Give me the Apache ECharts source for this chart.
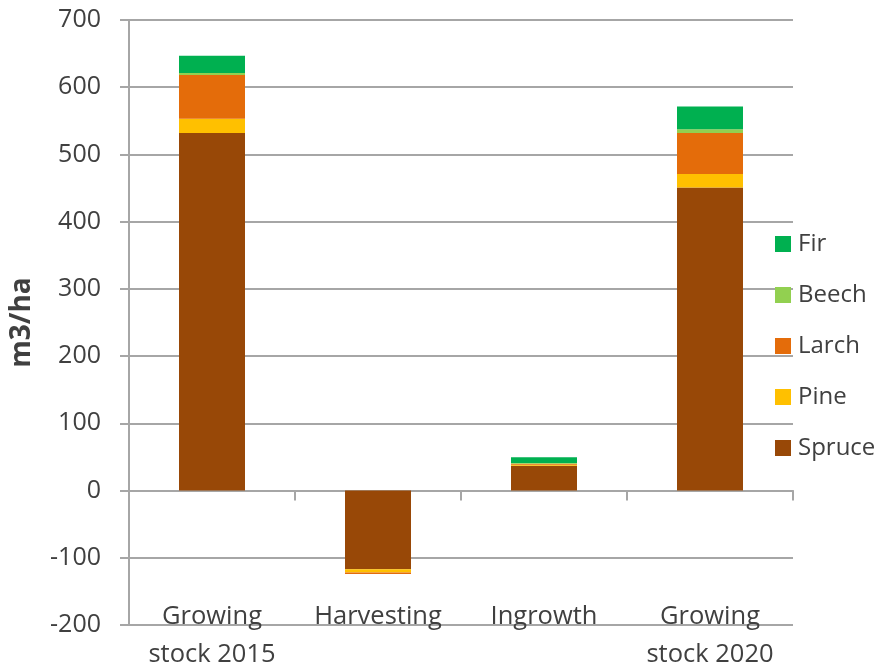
<!DOCTYPE html>
<html>
<head>
<meta charset="utf-8">
<script src="https://cdn.jsdelivr.net/npm/echarts@6/dist/echarts.min.js"></script>
<style>
  html, body { margin: 0; padding: 0; background: #fff; }
  #chart { width: 883px; height: 666px; }
</style>
</head>
<body>
<div id="chart"></div>
<script>
// Stand volume components per tree species (m3/ha)
const categories = ['Growing\nstock 2015', 'Harvesting', 'Ingrowth', 'Growing\nstock 2020'];
const spruce = [532, -117, 37, 451];
const pine   = [21, -5, 1.5, 20];
const larch  = [65, -2, 1.5, 61];
const beech  = [3, 0, 1, 5.5];
const fir    = [26, 0, 8.5, 34];

const yTicks = { min: -200, max: 700, step: 100 };

const FONT = '"Open Sans", "Noto Sans", sans-serif';
const TEXT = '#404040';
const LINE = '#a6a6a6';

const seriesDefs = [
  { name: 'Spruce', data: spruce, color: '#984807' },
  { name: 'Pine',   data: pine,   color: '#FFC000' },
  { name: 'Larch',  data: larch,  color: '#E46C0A' },
  { name: 'Beech',  data: beech,  color: '#92D050' },
  { name: 'Fir',    data: fir,    color: '#00B050' }
];

const chart = echarts.init(document.getElementById('chart'), null, { renderer: 'canvas' });

chart.setOption({
  animation: false,
  backgroundColor: '#ffffff',
  textStyle: { fontFamily: FONT },
  grid: { left: 129, right: 90, top: 20, bottom: 41, containLabel: false, outerBoundsMode: 'none' },
  legend: {
    orient: 'vertical',
    left: 775,
    top: 232,
    padding: 0,
    itemWidth: 16,
    itemHeight: 16,
    itemGap: 27,
    icon: 'rect',
    data: ['Fir', 'Beech', 'Larch', 'Pine', 'Spruce'],
    textStyle: { fontFamily: FONT, fontSize: 24, color: TEXT, lineHeight: 24, padding: [0, 0, 0, 2] }
  },
  xAxis: [
    {
      type: 'category',
      data: categories,
      axisLine: { onZero: true, lineStyle: { color: LINE, width: 2 } },
      axisTick: { show: true, length: 10, lineStyle: { color: LINE, width: 2 } },
      axisLabel: { show: false },
      splitLine: { show: false }
    },
    {
      type: 'category',
      data: categories,
      position: 'bottom',
      axisLine: { show: false },
      axisTick: { show: false },
      axisLabel: {
        show: true,
        interval: 0,
        hideOverlap: false,
        margin: -27,
        fontFamily: FONT,
        fontSize: 25.5,
        lineHeight: 38,
        color: TEXT,
        verticalAlign: 'top'
      },
      splitLine: { show: false }
    }
  ],
  yAxis: {
    type: 'value',
    min: yTicks.min,
    max: yTicks.max,
    interval: yTicks.step,
    name: 'm3/ha',
    nameLocation: 'middle',
    nameGap: 93,
    nameRotate: 90,
    nameTextStyle: { fontFamily: FONT, fontSize: 28, fontWeight: 'bold', color: TEXT },
    axisLine: { show: true, lineStyle: { color: LINE, width: 2 } },
    axisTick: { show: true, length: 9, lineStyle: { color: LINE, width: 2 } },
    axisLabel: { margin: 28, fontFamily: FONT, fontSize: 25, color: TEXT },
    splitLine: { show: true, lineStyle: { color: LINE, width: 2 } }
  },
  series: seriesDefs.map(s => ({
    name: s.name,
    type: 'bar',
    stack: 'volume',
    xAxisIndex: 0,
    barWidth: 66,
    data: s.data,
    itemStyle: { color: s.color }
  }))
});
</script>
</body>
</html>
